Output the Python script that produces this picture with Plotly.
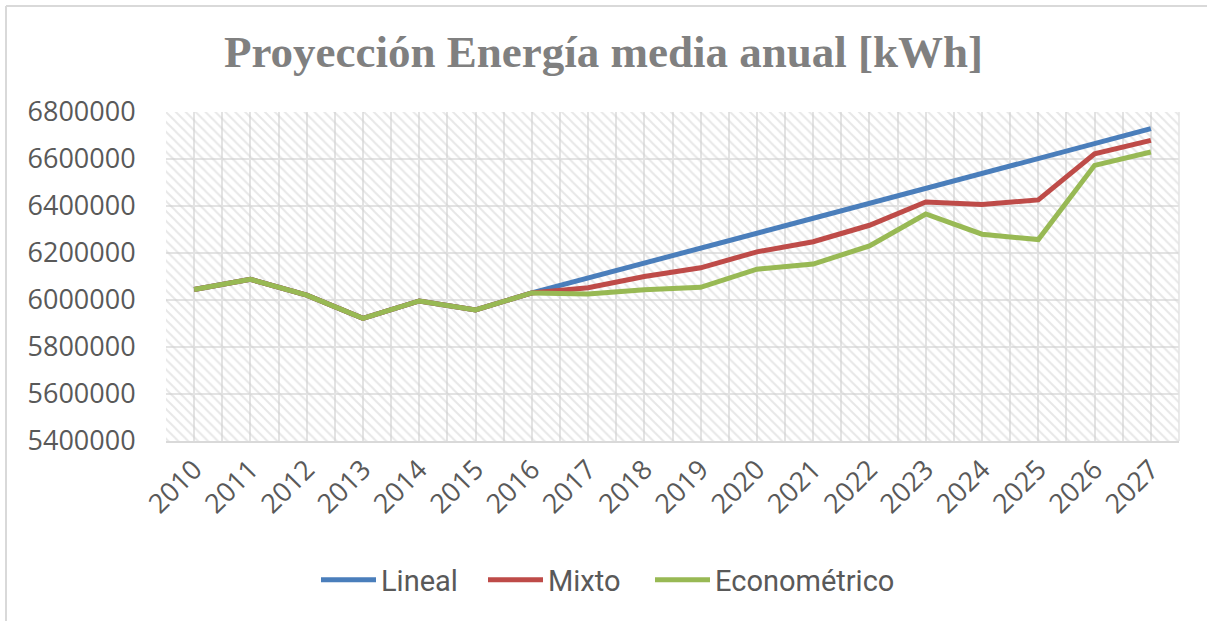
import plotly.graph_objects as go

years = list(range(2010, 2028))
lineal = [6045000, 6088000, 6021000, 5922000, 5996000, 5958000, 6030000,
          6094000, 6157000, 6221000, 6285000, 6348000, 6412000, 6475000,
          6539000, 6603000, 6666000, 6729000]
mixto = [6045000, 6088000, 6021000, 5922000, 5996000, 5958000, 6030000,
         6052000, 6100000, 6137000, 6205000, 6248000, 6318000, 6417000,
         6406000, 6426000, 6622000, 6679000]
econometrico = [6045000, 6088000, 6021000, 5922000, 5996000, 5958000, 6030000,
                6026000, 6044000, 6054000, 6131000, 6153000, 6230000, 6366000,
                6280000, 6257000, 6573000, 6630000]
y_ticks = [5400000, 5600000, 5800000, 6000000, 6200000, 6400000, 6600000, 6800000]

W, H = 1207, 621
L, R, T, B = 166, 28, 112, 180
pw, ph = W - L - R, H - T - B

def px_x(p):
    return (p - L) / pw

def px_y(p):
    return (H - B - p) / ph

fig = go.Figure()

# hatched plot-area background
fig.add_trace(go.Scatter(
    x=[years[0] - 0.5, years[-1] + 0.5, years[-1] + 0.5, years[0] - 0.5, years[0] - 0.5],
    y=[y_ticks[0], y_ticks[0], y_ticks[-1], y_ticks[-1], y_ticks[0]],
    mode="none", fill="toself", fillcolor="rgba(0,0,0,0)",
    fillpattern=dict(shape="\\", fgcolor="#d0d0d0", bgcolor="rgba(0,0,0,0)",
                     size=7, solidity=0.28),
    showlegend=False, hoverinfo="skip"))

series = [("Lineal", lineal, "#4a7ebb", "legend"),
          ("Mixto", mixto, "#be4b48", "legend2"),
          ("Econométrico", econometrico, "#98b954", "legend3")]
for name, vals, col, lg in series:
    fig.add_trace(go.Scatter(x=years, y=vals, name=name, mode="lines",
                             line=dict(color=col, width=5), legend=lg))

tick_font = dict(family="Open Sans, Noto Sans, sans-serif", size=27, color="#595959")
legend_font = dict(family="Roboto, sans-serif", size=29, color="#595959")

def make_legend(left_px):
    return dict(orientation="h", x=px_x(left_px - 7), xanchor="left",
                y=px_y(580), yanchor="middle", itemwidth=55,
                font=legend_font, bgcolor="rgba(0,0,0,0)")

fig.update_layout(
    width=W, height=H,
    margin=dict(l=L, r=R, t=T, b=B, autoexpand=False),
    paper_bgcolor="white", plot_bgcolor="white",
    title=dict(text="<b>Proyección Energía media anual [kWh]</b>",
               x=0.5, xanchor="center", xref="container",
               y=1 - 51 / H, yanchor="middle", yref="container",
               font=dict(family="Liberation Serif, DejaVu Serif, serif", size=45, color="#808080")),
    xaxis=dict(range=[years[0] - 0.5, years[-1] + 0.5], tickmode="array",
               tickvals=years, ticktext=[str(y) for y in years],
               tickangle=-45, tickfont=tick_font, showgrid=True,
               gridcolor="#e3e3e3", gridwidth=1.5, zeroline=False,
               showline=True, linecolor="#d9d9d9", linewidth=2, mirror=False,
               ticks="", ticklen=0,
               minor=dict(tickvals=[y - 0.5 for y in years] + [years[-1] + 0.5],
                          showgrid=True, gridcolor="#e3e3e3", gridwidth=1.5, ticks="")),
    yaxis=dict(range=[y_ticks[0], y_ticks[-1]], tickvals=y_ticks,
               ticktext=[str(v) for v in y_ticks], tickfont=tick_font,
               showgrid=True, gridcolor="#e3e3e3", gridwidth=1.5, zeroline=False,
               showline=False, ticks="outside", ticklen=24, tickcolor="rgba(0,0,0,0)"),
    legend=make_legend(323),
    legend2=make_legend(490),
    legend3=make_legend(657),
    shapes=[
        dict(type="line", xref="paper", yref="paper", x0=px_x(6), x1=px_x(W), y0=px_y(6), y1=px_y(6),
             line=dict(color="#d9d9d9", width=2)),
        dict(type="line", xref="paper", yref="paper", x0=px_x(6), x1=px_x(6), y0=px_y(6), y1=px_y(H),
             line=dict(color="#d9d9d9", width=2)),
        dict(type="line", xref="paper", yref="paper", x0=1, x1=1, y0=0, y1=1,
             line=dict(color="#e3e3e3", width=1.5)),
    ],
)

fig.write_html("out.html", config={"displayModeBar": False},
               post_script="document.body.style.margin='0';")
